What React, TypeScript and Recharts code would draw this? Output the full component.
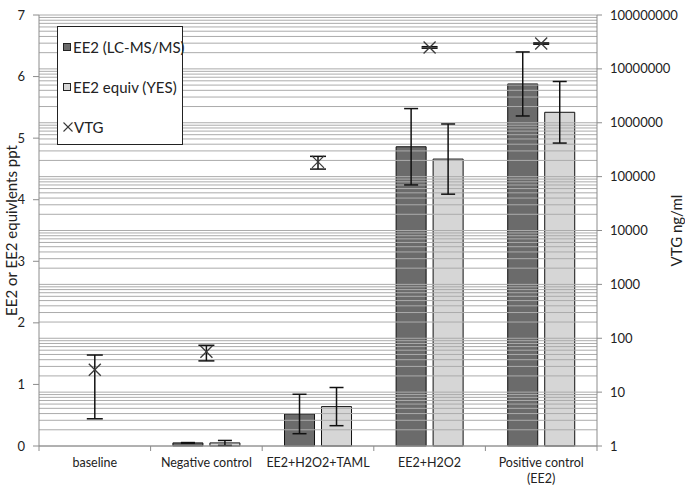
import {
    ComposedChart,
    Bar,
    Scatter,
    XAxis,
    YAxis,
    ErrorBar,
    ReferenceLine,
    Legend,
} from "recharts";

const FONT = "Lato, 'Open Sans', sans-serif";

const CATEGORIES = [
    "baseline",
    "Negative control",
    "EE2+H2O2+TAML",
    "EE2+H2O2",
    "Positive control (EE2)",
];

// ppt, left axis
const EE2_LCMS = [null, 0.05, 0.52, 4.86, 5.88];
const EE2_LCMS_ERR = [null, 0.006, 0.32, 0.62, 0.52];
const EE2_YES = [null, 0.05, 0.64, 4.66, 5.42];
const EE2_YES_ERR = [null, 0.04, 0.31, 0.57, 0.5];

// ng/ml, right (log) axis
const VTG = [26, 56, 188000, 25000000, 29500000];
const VTG_ERR = [22.8, 18, 50000, 800000, 800000];

const LEFT_TICKS = [0, 1, 2, 3, 4, 5, 6, 7];
const RIGHT_TICKS = [1, 10, 100, 1000, 10000, 100000, 1000000, 10000000, 100000000];

// minor log gridlines (1..9 x each decade)
const GRID_LINES = RIGHT_TICKS.slice(0, -1)
    .flatMap((t) => [1, 2, 3, 4, 5, 6, 7, 8, 9].map((k) => k * t))
    .concat(RIGHT_TICKS[RIGHT_TICKS.length - 1]);

const data = CATEGORIES.map((name, i) => ({
    name,
    lcms: EE2_LCMS[i],
    lcmsErr: EE2_LCMS_ERR[i],
    yes: EE2_YES[i],
    yesErr: EE2_YES_ERR[i],
    vtg: VTG[i],
    vtgErr: VTG_ERR[i],
}));

const W = 685;
const H = 486;
const LEFT_W = 39;
const RIGHT_W = 88;
const HALF_BAND = (W - LEFT_W - RIGHT_W) / CATEGORIES.length / 2;

const wrap = (s: string, max: number) => {
    const lines: string[] = [];
    let cur = "";
    s.split(" ").forEach((w) => {
        const next = cur ? cur + " " + w : w;
        if (next.length > max && cur) {
            lines.push(cur);
            cur = w;
        } else cur = next;
    });
    if (cur) lines.push(cur);
    return lines;
};

const CategoryTick = (props: any) => {
    const { x, y, payload, index } = props;
    const lines = wrap(String(payload.value), 17);
    return (
        <g>
            <line x1={x - HALF_BAND} y1={y} x2={x - HALF_BAND} y2={y + 5} stroke="#8c8c8c" />
            {index === CATEGORIES.length - 1 && (
                <line x1={x + HALF_BAND} y1={y} x2={x + HALF_BAND} y2={y + 5} stroke="#8c8c8c" />
            )}
            <text x={x} y={y + 21} textAnchor="middle" fontSize={12.5} fill="#222" fontFamily={FONT}>
                {lines.map((l, i) => (
                    <tspan key={i} x={x} dy={i === 0 ? 0 : 16}>
                        {l}
                    </tspan>
                ))}
            </text>
        </g>
    );
};

const Cross = (props: any) => {
    const { cx, cy } = props;
    if (cx == null || cy == null) return null;
    return (
        <g stroke="#3a3a3a" strokeWidth={1.3}>
            <line x1={cx - 6} y1={cy - 6} x2={cx + 6} y2={cy + 6} />
            <line x1={cx - 6} y1={cy + 6} x2={cx + 6} y2={cy - 6} />
        </g>
    );
};

const LegendBox = () => {
    const row = { display: "flex", alignItems: "center", height: 40, whiteSpace: "nowrap" as const };
    const sq = (fill: string) => ({
        width: 6,
        height: 6,
        flexShrink: 0,
        background: fill,
        border: "1px solid #222",
        marginRight: 2,
    });
    return (
        <div
            style={{
                width: 126,
                height: 119,
                border: "1px solid #222",
                background: "#fff",
                boxSizing: "border-box",
                fontFamily: FONT,
                fontSize: 15,
                color: "#222",
                padding: "0 0 0 5px",
            }}
        >
            <div style={row}>
                <span style={sq("#6b6b6b")} />
                EE2 (LC-MS/MS)
            </div>
            <div style={row}>
                <span style={sq("#d6d6d6")} />
                EE2 equiv (YES)
            </div>
            <div style={row}>
                <svg width={10} height={10} style={{ marginRight: 1, flexShrink: 0 }}>
                    <g stroke="#3a3a3a" strokeWidth={1.1}>
                        <line x1={0.5} y1={0.5} x2={9.5} y2={9.5} />
                        <line x1={0.5} y1={9.5} x2={9.5} y2={0.5} />
                    </g>
                </svg>
                VTG
            </div>
        </div>
    );
};

const sideLabel = (text: string, dx: number) => (props: any) => {
    const { viewBox } = props;
    const cx = viewBox.x + dx;
    const cy = viewBox.y + viewBox.height / 2;
    return (
        <text
            x={cx}
            y={cy}
            transform={`rotate(-90 ${cx} ${cy})`}
            textAnchor="middle"
            dominantBaseline="central"
            fontSize={15}
            fill="#222"
            fontFamily={FONT}
        >
            {text}
        </text>
    );
};

export default function App() {
    return (
        <div style={{ position: "absolute", left: 0, top: 0, width: W, height: H, background: "#fff" }}>
            <ComposedChart
                width={W}
                height={H}
                data={data}
                margin={{ top: 15, right: 0, bottom: 0, left: 0 }}
                barCategoryGap="20%"
                barGap={7}
            >
                {GRID_LINES.map((v) => (
                    <ReferenceLine key={v} yAxisId="vtg" y={v} stroke="#ababab" strokeWidth={1} />
                ))}
                <XAxis
                    dataKey="name"
                    height={40}
                    tickLine={false}
                    tickSize={0}
                    tickMargin={0}
                    interval={0}
                    stroke="#8c8c8c"
                    tick={<CategoryTick />}
                />
                <YAxis
                    yAxisId="ppt"
                    width={LEFT_W}
                    domain={[0, 7]}
                    ticks={LEFT_TICKS}
                    tickSize={6}
                    tickMargin={8}
                    stroke="#8c8c8c"
                    tick={{ fill: "#222", fontSize: 13, fontFamily: FONT }}
                    label={{ content: sideLabel("EE2 or EE2 equivlents ppt", 11) }}
                />
                <YAxis
                    yAxisId="vtg"
                    orientation="right"
                    width={RIGHT_W}
                    scale="log"
                    domain={[1, 100000000]}
                    ticks={RIGHT_TICKS}
                    allowDataOverflow
                    tickSize={5}
                    tickMargin={8}
                    stroke="#8c8c8c"
                    tick={{ fill: "#222", fontSize: 13, fontFamily: FONT, textAnchor: "start" }}
                    label={{ content: sideLabel("VTG ng/ml", 79) }}
                />
                <Bar
                    yAxisId="ppt"
                    dataKey="lcms"
                    name="EE2 (LC-MS/MS)"
                    fill="#6b6b6b"
                    stroke="#111"
                    strokeWidth={1}
                    isAnimationActive={false}
                >
                    <ErrorBar dataKey="lcmsErr" width={7} stroke="#111" strokeWidth={1.5} />
                </Bar>
                <Bar
                    yAxisId="ppt"
                    dataKey="yes"
                    name="EE2 equiv (YES)"
                    fill="#d6d6d6"
                    stroke="#111"
                    strokeWidth={1}
                    isAnimationActive={false}
                >
                    <ErrorBar dataKey="yesErr" width={7} stroke="#111" strokeWidth={1.5} />
                </Bar>
                <Scatter
                    yAxisId="vtg"
                    dataKey="vtg"
                    name="VTG"
                    shape={<Cross />}
                    isAnimationActive={false}
                >
                    <ErrorBar dataKey="vtgErr" direction="y" width={8} stroke="#111" strokeWidth={1.5} />
                </Scatter>
                <Legend
                    layout="horizontal"
                    verticalAlign="middle"
                    align="center"
                    content={<LegendBox />}
                    wrapperStyle={{ left: 57, top: 26, width: 126, height: 119, margin: 0 }}
                />
            </ComposedChart>
        </div>
    );
}
